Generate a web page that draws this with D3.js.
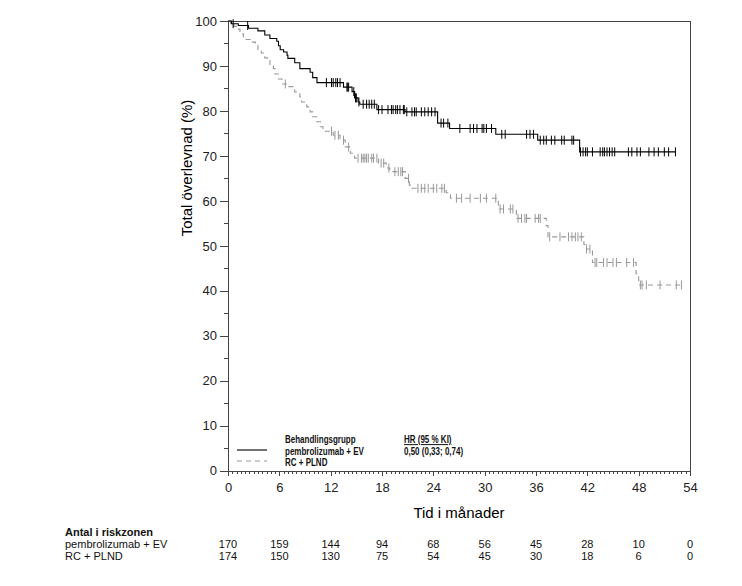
<!DOCTYPE html>
<html>
<head>
  <meta charset="utf-8">
  <title>Total överlevnad</title>
  <style>
    body { margin: 0; background: #fff; }
    svg { display: block; font-family: "Liberation Sans", Arial, sans-serif; }
    .axis path, .axis line { stroke: #444; shape-rendering: crispEdges; }
    .axis text { font-size: 13px; fill: #222; }
    .legend text { font-size: 10px; font-weight: bold; fill: #111; }
    .risk text { font-size: 11px; fill: #111; }
  </style>
</head>
<body>
  <svg id="chart" width="742" height="586"></svg>
  <script src="https://d3js.org/d3.v7.min.js"></script>
  <script>
    // pembrolizumab + EV: step times (months) and survival (%)
    const pembroTime = [0, 0.4, 1.2, 2.4, 3.5, 4.3, 4.9, 5.7, 5.9, 6.1, 6.5, 6.9, 7.0, 7.8, 8.4, 9.6, 9.9, 10.4,
      13.5, 14.5, 14.8, 15.2, 15.4, 17.4, 20.7, 24.5, 25.9, 31.3, 36.2, 41.1];
    const pembroSurv = [100, 99.4, 99.0, 98.4, 97.8, 96.9, 96.1, 95.5, 94.5, 93.6, 93.1, 92.4, 91.7, 90.7, 89.4, 88.6, 87.4, 86.3,
      85.3, 84.3, 82.9, 82.0, 81.5, 80.3, 79.8, 77.3, 76.1, 74.8, 73.5, 70.9];
    const pembroEnd = 52.3;
    const pembroCensor = [0.6, 2.3, 11.5, 12.1, 12.3, 12.6, 12.8, 13.1, 13.9, 14.0, 14.1, 14.7, 14.9, 15.0, 15.3,
      15.8, 16.2, 16.5, 16.8, 17.1, 17.6, 18.0, 18.7, 19.1, 19.3, 19.6, 19.8, 20.1, 20.5, 20.6, 20.9, 21.5, 21.8,
      22.0, 22.6, 23.0, 23.4, 23.8, 24.2, 24.9, 25.2, 25.7, 27.1, 28.3, 28.7, 29.1, 29.7, 29.9, 30.2, 30.8, 32.0,
      32.4, 34.9, 35.3, 35.7, 36.5, 36.9, 37.2, 37.8, 38.2, 39.0, 39.3, 40.2, 40.4, 41.2, 41.5, 41.8, 42.0, 42.6,
      43.5, 43.8, 44.0, 44.3, 44.6, 44.9, 45.2, 46.8, 47.2, 47.8, 48.2, 49.2, 49.8, 50.3, 51.0, 51.5, 52.3];

    // RC + PLND
    const rcTime = [0, 0.3, 0.7, 1.0, 1.4, 1.8, 2.0, 2.6, 3.2, 3.5, 3.9, 4.3, 4.6, 4.9, 5.3, 5.5, 5.9, 6.3, 6.8,
      7.8, 8.4, 8.6, 9.2, 9.6, 9.9, 10.4, 10.8, 11.1, 12.3, 13.1, 13.7, 14.3, 14.8, 17.6, 18.5, 18.9, 20.7,
      21.2, 21.5, 25.5, 26.0, 31.6, 33.7, 37.2, 37.4, 41.6, 41.9, 42.6, 47.7, 48.0];
    const rcSurv = [100, 99.4, 98.8, 98.2, 97.1, 96.5, 95.9, 95.3, 94.7, 93.5, 92.9, 91.8, 91.2, 90.0, 89.4, 88.2, 87.1, 86.0, 85.4,
      84.2, 83.1, 82.0, 80.9, 79.8, 78.7, 77.6, 76.5, 75.5, 74.6, 73.5, 72.0, 70.6, 69.5, 68.4, 67.3, 66.5, 65.0,
      63.5, 62.8, 61.8, 60.6, 58.2, 56.1, 54.5, 52.0, 50.3, 49.3, 46.3, 43.8, 41.3];
    const rcEnd = 53.0;
    const rcCensor = [6.7, 12.1, 12.5, 12.9, 13.5, 14.1, 15.2, 15.6, 15.8, 16.0, 16.2, 16.4, 16.8, 17.0, 17.4,
      17.9, 18.2, 18.8, 19.5, 19.9, 20.2, 20.4, 21.1, 22.2, 22.6, 23.0, 23.4, 24.0, 24.4, 25.0, 25.3, 26.7, 27.3,
      28.3, 29.5, 30.2, 31.3, 31.8, 32.2, 33.0, 33.3, 33.9, 34.3, 34.7, 34.9, 35.9, 36.3, 36.5, 37.6, 38.8, 39.8,
      40.2, 40.6, 40.9, 41.3, 41.9, 42.3, 42.9, 43.1, 43.9, 44.3, 45.0, 45.4, 46.6, 47.4, 48.2, 48.4, 48.9, 50.5,
      52.4, 53.0];

    // risk table
    const riskTimes = [0, 6, 12, 18, 24, 30, 36, 42, 48, 54];
    const riskPembro = [170, 159, 144, 94, 68, 56, 45, 28, 10, 0];
    const riskRC = [174, 150, 130, 75, 54, 45, 30, 18, 6, 0];

    const xTicks = [0, 6, 12, 18, 24, 30, 36, 42, 48, 54];
    const yTicks = [0, 10, 20, 30, 40, 50, 60, 70, 80, 90, 100];

    const svg = d3.select("#chart");
    const plotLeft = 228, plotRight = 690, plotTop = 21, plotBottom = 470.7;

    const x = d3.scaleLinear().domain([0, 54]).range([plotLeft, plotRight]);
    const y = d3.scaleLinear().domain([0, 100]).range([plotBottom, plotTop]);

    // frame (top and right)
    svg.append("path")
      .attr("d", `M${plotLeft},${plotTop}H${plotRight}V${plotBottom}`)
      .attr("fill", "none")
      .attr("stroke", "#444")
      .attr("shape-rendering", "crispEdges");

    // minor ticks
    svg.append("g")
      .attr("class", "axis")
      .attr("transform", `translate(0,${plotBottom})`)
      .call(d3.axisBottom(x).tickValues(d3.range(0, 54.01, 0.5)).tickSize(3).tickFormat("").tickSizeOuter(0))
      .select(".domain").remove();
    svg.append("g")
      .attr("class", "axis")
      .attr("transform", `translate(${plotLeft},0)`)
      .call(d3.axisLeft(y).tickValues(d3.range(5, 100, 10)).tickSize(4).tickFormat("").tickSizeOuter(0))
      .select(".domain").remove();

    // major axes
    svg.append("g")
      .attr("class", "axis")
      .attr("transform", `translate(0,${plotBottom})`)
      .call(d3.axisBottom(x).tickValues(xTicks).tickSize(5).tickPadding(7).tickSizeOuter(0));
    svg.append("g")
      .attr("class", "axis")
      .attr("transform", `translate(${plotLeft},0)`)
      .call(d3.axisLeft(y).tickValues(yTicks).tickSize(8).tickPadding(3).tickSizeOuter(0));

    // axis titles
    svg.append("text")
      .attr("x", 459).attr("y", 518)
      .attr("text-anchor", "middle")
      .style("font-size", "15px")
      .text("Tid i månader");
    svg.append("text")
      .attr("transform", "rotate(-90)")
      .attr("x", -168).attr("y", 192)
      .attr("text-anchor", "middle")
      .style("font-size", "15px")
      .text("Total överlevnad (%)");

    // KM curves
    const stepLine = d3.line()
      .x(d => x(d[0]))
      .y(d => y(d[1]))
      .curve(d3.curveStepAfter);

    function curvePoints(times, surv, end) {
      const pts = times.map((t, i) => [t, surv[i]]);
      pts.push([end, surv[surv.length - 1]]);
      return pts;
    }

    function survAt(times, surv, t) {
      const i = d3.bisectRight(times, t) - 1;
      return surv[Math.max(i, 0)];
    }

    const groups = [
      {time: rcTime, surv: rcSurv, end: rcEnd, censor: rcCensor, color: "#999", dash: "5,4"},
      {time: pembroTime, surv: pembroSurv, end: pembroEnd, censor: pembroCensor, color: "#000", dash: null}
    ];

    groups.forEach(g => {
      svg.append("path")
        .datum(curvePoints(g.time, g.surv, g.end))
        .attr("fill", "none")
        .attr("stroke", g.color)
        .attr("stroke-width", 1.1)
        .attr("stroke-dasharray", g.dash)
        .attr("d", stepLine);

      svg.append("g")
        .selectAll("line")
        .data(g.censor)
        .join("line")
        .attr("x1", d => x(d)).attr("x2", d => x(d))
        .attr("y1", d => y(survAt(g.time, g.surv, d)) - 4.5)
        .attr("y2", d => y(survAt(g.time, g.surv, d)) + 4.5)
        .attr("stroke", g.color)
        .attr("stroke-width", 1);
    });

    // legend (narrow lettering via horizontal squeeze)
    const legend = svg.append("g").attr("class", "legend");
    legend.append("line")
      .attr("x1", 237).attr("x2", 267).attr("y1", 450).attr("y2", 450)
      .attr("stroke", "#000").attr("stroke-width", 1.1);
    legend.append("line")
      .attr("x1", 237).attr("x2", 267).attr("y1", 461).attr("y2", 461)
      .attr("stroke", "#999").attr("stroke-width", 1.1).attr("stroke-dasharray", "5,4");

    function legendText(tx, ty, label) {
      return legend.append("text")
        .attr("transform", `translate(${tx},${ty}) scale(0.8,1)`)
        .text(label);
    }
    legendText(285, 443, "Behandlingsgrupp");
    legendText(285, 454.5, "pembrolizumab + EV");
    legendText(285, 466, "RC + PLND");
    legendText(404, 443, "HR (95 % KI)").attr("text-decoration", "underline");
    legendText(404, 454.5, "0,50 (0,33; 0,74)");

    // risk table
    const risk = svg.append("g").attr("class", "risk");
    risk.append("text").attr("x", 65).attr("y", 536)
      .style("font-weight", "bold").text("Antal i riskzonen");
    risk.append("text").attr("x", 65).attr("y", 548).text("pembrolizumab + EV");
    risk.append("text").attr("x", 65).attr("y", 560).text("RC + PLND");

    risk.selectAll("text.n1")
      .data(riskPembro)
      .join("text")
      .attr("class", "n1")
      .attr("x", (d, i) => x(riskTimes[i]))
      .attr("y", 548)
      .attr("text-anchor", "middle")
      .text(d => d);
    risk.selectAll("text.n2")
      .data(riskRC)
      .join("text")
      .attr("class", "n2")
      .attr("x", (d, i) => x(riskTimes[i]))
      .attr("y", 560)
      .attr("text-anchor", "middle")
      .text(d => d);
  </script>
</body>
</html>
